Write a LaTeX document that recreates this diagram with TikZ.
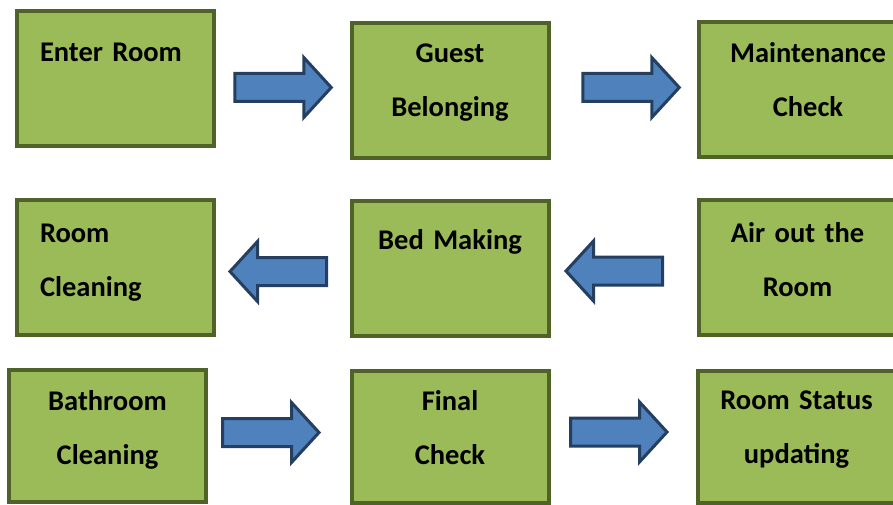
\documentclass[tikz,border=0pt]{standalone}
\usepackage{fontspec}
\setmainfont{Carlito}
\usetikzlibrary{calc}

\definecolor{boxfill}{HTML}{9BBB59}
\definecolor{boxline}{HTML}{4F6228}
\definecolor{arrowfill}{HTML}{4F81BD}
\definecolor{arrowline}{HTML}{243F60}

\tikzset{
  stepbox/.style={draw=boxline, fill=boxfill, line width=4pt, inner xsep=4pt, inner ysep=0pt,
    text width=189pt, align=center, font=\bfseries\fontsize{28.5}{54}\selectfont},
  leftbox/.style={stepbox, inner xsep=23pt, text width=151pt, align=left},
  lines/.style 2 args={text height=#1, text depth=#2},
  pics/blockarrow/.style={code={
    \draw[draw=arrowline, fill=arrowfill, line width=3pt] (-48.5,-14) -- (20.5,-14) -- (20.5,-30)
      -- (48,0) -- (20.5,30) -- (20.5,14) -- (-48.5,14) -- cycle;
  }}
}

\begin{document}
\begin{tikzpicture}[x=1pt, y=-1pt]
	\useasboundingbox (0,0) rectangle (893,505);
	\clip (0,0) rectangle (893,505);

	% first row
	\node[leftbox, lines={51pt}{84pt}] (enter) at (115.5,78.5) {Enter Room};
	\node[stepbox, lines={39pt}{96pt}] (guest) at (450,91) {Guest\\Belonging};
	\node[stepbox, text width=211pt, lines={40pt}{95pt}] (maint) at (808,90) {Maintenance\\Check};

	% second row
	\node[leftbox, lines={42pt}{93pt}] (clean) at (115.5,267.5) {Room\\Cleaning};
	\node[stepbox, lines={49pt}{86pt}] (bed) at (450,268) {Bed Making};
	\node[stepbox, lines={42pt}{93pt}] (air) at (797.5,267.5) {Air out the\\Room};

	% third row
	\node[stepbox, lines={40pt}{92pt}] (bath) at (107.5,436) {Bathroom\\Cleaning};
	\node[stepbox, lines={40pt}{92pt}] (final) at (450,436.5) {Final\\Check};
	\node[stepbox, lines={39pt}{93pt}] (status) at (796.5,436.5) {Room Status\\updating};

	% block arrows
	\pic at ($(enter.east)!.5!(guest.west) + (0.5,2.75)$) {blockarrow};
	\pic at ($(guest.east)!.5!(maint.west) + (7.75,-3)$) {blockarrow};
	\pic[rotate=180] at ($(clean.east)!.5!(bed.west) + (-4.75,3.75)$) {blockarrow};
	\pic[rotate=180] at ($(bed.east)!.5!(air.west) + (-9.75,3.25)$) {blockarrow};
	\pic at ($(bath.east)!.5!(final.west) + (-7.75,-3.75)$) {blockarrow};
	\pic at ($(final.east)!.5!(status.west) + (-4.25,-4.5)$) {blockarrow};
\end{tikzpicture}
\end{document}
